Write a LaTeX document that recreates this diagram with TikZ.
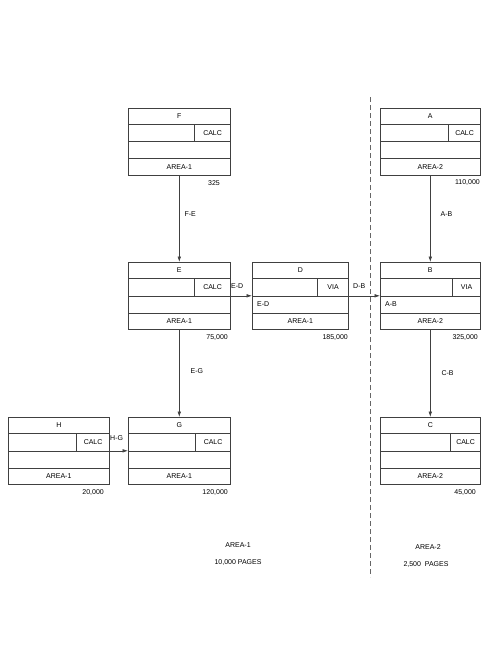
\documentclass[tikz,border=0pt]{standalone}
\usepackage{fontspec}
\setmainfont{Liberation Sans}
\usetikzlibrary{arrows.meta}
\tikzset{
  ln/.style={draw=black!75, line width=0.6pt},
  box/.style={ln, rectangle, inner sep=0pt, minimum height=67pt},
  txt/.style={inner sep=0pt, font=\fontsize{7}{8.4}\selectfont},
  conn/.style={ln, -{Latex[length=5.5pt,width=3.6pt]}},
  divline/.style={draw=black!60, line width=0.6pt, dash pattern=on 5pt off 3pt}
}
% name, left, top, width, cellwidth, title, cell text, row3 text, area
\newcommand\entbox[9]{%
  \node[box, anchor=north west, minimum width=#4pt] (#1) at (#2pt,-#3pt) {};
  \draw[ln] ([yshift=-16.75pt]#1.north west) -- ([yshift=-16.75pt]#1.north east);
  \draw[ln] (#1.west) -- (#1.east);
  \draw[ln] ([yshift=16.75pt]#1.south west) -- ([yshift=16.75pt]#1.south east);
  \draw[ln] ([xshift=-#5pt]#1.east) -- ([xshift=-#5pt,yshift=16.75pt]#1.east);
  \node[txt] (#1t) at ([yshift=-8.4pt]#1.north) {#6};
  \node[txt] (#1c) at ([xshift={-0.5*#5pt},yshift=8.4pt]#1.east) {#7};
  \node[txt, anchor=west] (#1r) at ([xshift=5pt,yshift=-8.4pt]#1.west) {#8};
  \node[txt] (#1a) at ([yshift=8.4pt]#1.south) {#9};
}
\begin{document}
\begin{tikzpicture}
\useasboundingbox (0,0) rectangle (490pt,-653pt);

\entbox{F}{128}{107.5}{102}{36}{F}{CALC}{}{AREA-1}
\entbox{E}{128}{262}{102}{36}{E}{CALC}{}{AREA-1}
\entbox{D}{252}{262}{96}{31}{D}{VIA}{E-D}{AREA-1}
\entbox{A}{380}{107.5}{100}{32}{A}{CALC}{}{AREA-2}
\entbox{B}{380}{262}{100}{28}{B}{VIA}{A-B}{AREA-2}
\entbox{H}{8}{417}{101}{33}{H}{CALC}{}{AREA-1}
\entbox{G}{128}{417}{102}{35}{G}{CALC}{}{AREA-1}
\entbox{C}{380}{417}{100}{30}{C}{CALC}{}{AREA-2}

% counts
\node[txt, anchor=east] (nF) at (220pt,-183pt) {325};
\node[txt, anchor=east] (nE) at (228pt,-337pt) {75,000};
\node[txt, anchor=east] (nD) at (348pt,-337pt) {185,000};
\node[txt, anchor=east] (nA) at (480pt,-183pt) {110,000};
\node[txt, anchor=east] (nB) at (478pt,-337pt) {325,000};
\node[txt, anchor=east] (nH) at (104pt,-492pt) {20,000};
\node[txt, anchor=east] (nG) at (228pt,-492pt) {120,000};
\node[txt, anchor=east] (nC) at (476pt,-492pt) {45,000};

% connectors
\draw[conn] (F.south) -- node[txt, right=5pt, pos=0.45] (lFE) {F-E} (E.north);
\draw[conn] (E.south) -- node[txt, right=11pt, pos=0.47] (lEG) {E-G} (G.north);
\draw[conn] (A.south) -- node[txt, right=10pt, pos=0.45] (lAB) {A-B} (B.north);
\draw[conn] (B.south) -- node[txt, right=11pt, pos=0.5] (lCB) {C-B} (C.north);
\draw[conn] (E.east) -- (D.west);
\node[txt, anchor=west] (lED) at (231pt,-286pt) {E-D};
\draw[conn] (D.east) -- (B.west);
\node[txt, anchor=west] (lDB) at (353pt,-286pt) {D-B};
\draw[conn] (H.east) -- (G.west);
\node[txt, anchor=west] (lHG) at (110pt,-438pt) {H-G};

% area divider
\coordinate (dtop) at (370pt,-97pt);
\coordinate (dbot) at (370pt,-577pt);
\draw[divline] (dtop) -- (dbot);

% area summaries
\node[txt] (s1a) at (238pt,-545pt) {AREA-1};
\node[txt] (s1b) at (238pt,-562pt) {10,000 PAGES};
\node[txt] (s2a) at (428pt,-547pt) {AREA-2};
\node[txt] (s2b) at (426pt,-564pt) {2,500\ \ PAGES};
\end{tikzpicture}
\end{document}
